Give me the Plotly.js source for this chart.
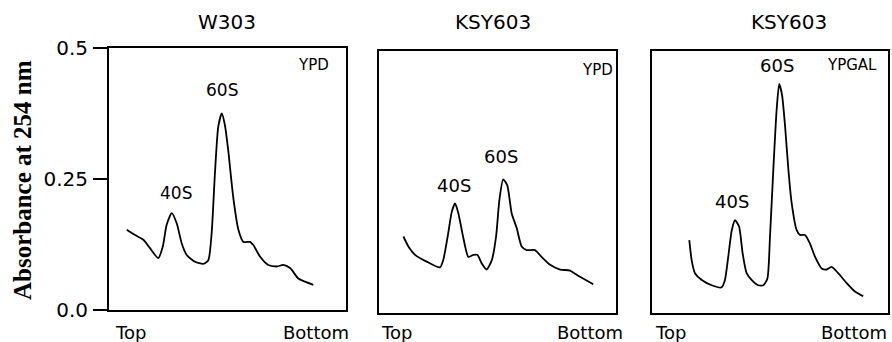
<!DOCTYPE html>
<html>
<head>
<meta charset="utf-8">
<script src="https://cdn.plot.ly/plotly-3.0.1.min.js"></script>
<style>html,body{margin:0;padding:0;background:#fff;}#chart{width:892px;height:342px;}</style>
</head>
<body>
<div id="chart"></div>
<script>
// Position along gradient (% from Top to Bottom) and absorbance at 254 nm
const w303YpdPos = [7.5, 11.0, 14.5, 17.3, 20.8, 22.7, 24.3, 26.5, 28.6, 30.7, 32.8, 36.3, 39.8, 41.9, 43.3, 44.7, 46.1, 47.6, 48.9, 50.3, 52.4, 54.6, 56.7, 59.5, 60.9, 63.7, 67.2, 70.8, 73.5, 76.4, 79.9, 82.7, 86.2];
const w303YpdAbs = [0.153, 0.143, 0.134, 0.118, 0.099, 0.121, 0.162, 0.185, 0.165, 0.127, 0.105, 0.092, 0.088, 0.095, 0.146, 0.261, 0.350, 0.375, 0.353, 0.305, 0.216, 0.153, 0.130, 0.130, 0.124, 0.102, 0.086, 0.083, 0.086, 0.080, 0.060, 0.054, 0.048];

const ksyYpdPos = [10.3, 12.4, 15.2, 20.1, 25.7, 27.1, 29.2, 30.7, 32.1, 33.5, 35.6, 37.7, 39.8, 41.5, 43.3, 45.4, 47.6, 49.4, 50.8, 52.4, 54.1, 56.0, 58.1, 60.2, 62.3, 65.8, 68.6, 72.2, 76.4, 80.6, 83.4, 87.6, 90.4];
const ksyYpdAbs = [0.146, 0.127, 0.111, 0.098, 0.087, 0.101, 0.152, 0.193, 0.209, 0.190, 0.143, 0.107, 0.111, 0.111, 0.095, 0.083, 0.101, 0.146, 0.216, 0.255, 0.244, 0.190, 0.162, 0.127, 0.120, 0.120, 0.107, 0.092, 0.083, 0.081, 0.073, 0.062, 0.055];

const ksyGalPos = [15.8, 16.8, 18.2, 21.1, 25.3, 29.5, 30.9, 32.3, 33.8, 35.2, 36.9, 38.4, 40.1, 42.2, 45.0, 47.2, 48.9, 50.0, 51.4, 52.8, 53.9, 55.1, 56.4, 57.8, 59.2, 61.3, 62.7, 64.8, 66.9, 69.1, 71.9, 74.0, 76.1, 78.9, 82.5, 86.0, 89.5];
const ksyGalAbs = [0.139, 0.101, 0.076, 0.063, 0.053, 0.049, 0.063, 0.107, 0.158, 0.177, 0.165, 0.114, 0.076, 0.063, 0.053, 0.053, 0.066, 0.146, 0.273, 0.387, 0.437, 0.416, 0.356, 0.273, 0.209, 0.158, 0.149, 0.149, 0.133, 0.107, 0.085, 0.083, 0.088, 0.076, 0.057, 0.041, 0.032];

const panelTitles = ["W303", "KSY603", "KSY603"];
const mediumLabels = ["YPD", "YPD", "YPGAL"];
const peakLabels = ["40S", "60S"];
const yTickVals = [0, 0.25, 0.5];
const yTickText = ["0.0", "0.25", "0.5"];
const endLabels = ["Top", "Bottom"];
const yTitle = "Absorbance at 254 nm";

const W = 892, H = 342;
const px = v => v / W;
const py = v => 1 - v / H;

const lineStyle = {color: "#000", width: 1.8, shape: "spline", smoothing: 0.6};
const traces = [
  {x: w303YpdPos, y: w303YpdAbs, xaxis: "x", yaxis: "y", mode: "lines", line: lineStyle, hoverinfo: "skip"},
  {x: ksyYpdPos, y: ksyYpdAbs, xaxis: "x2", yaxis: "y2", mode: "lines", line: lineStyle, hoverinfo: "skip"},
  {x: ksyGalPos, y: ksyGalAbs, xaxis: "x3", yaxis: "y3", mode: "lines", line: lineStyle, hoverinfo: "skip"}
];

const frameX = d => ({domain: d, range: [0, 100], showline: true, mirror: true, linecolor: "#000", linewidth: 2,
  showgrid: false, zeroline: false, showticklabels: false, ticks: "", fixedrange: true});
const frameY = (d, show) => ({domain: d, range: [0, 0.5], showline: true, mirror: true, linecolor: "#000", linewidth: 2,
  showgrid: false, zeroline: false, fixedrange: true,
  showticklabels: show, ticks: show ? "outside" : "", ticklen: 14, tickwidth: 1.5, tickcolor: "#000",
  tickmode: "array", tickvals: yTickVals, ticktext: yTickText,
  tickfont: {family: "DejaVu Sans", size: 20, color: "#000"}, ticklabelstandoff: 1});

const ann = [];
const font = (s, fam) => ({family: fam || "DejaVu Sans", size: s, color: "#000"});
// panel titles
[[227, panelTitles[0]], [493, panelTitles[1]], [789, panelTitles[2]]].forEach(([cx, t]) =>
  ann.push({xref: "paper", yref: "paper", x: px(cx), y: py(22), text: t, showarrow: false, xanchor: "center", yanchor: "middle", font: font(20)}));
// Top / Bottom
[[113, 351], [379, 625], [653, 889]].forEach(([l, r]) => {
  ann.push({xref: "paper", yref: "paper", x: px(l), y: py(332), text: endLabels[0], showarrow: false, xanchor: "left", yanchor: "middle", font: font(18)});
  ann.push({xref: "paper", yref: "paper", x: px(r), y: py(332), text: endLabels[1], showarrow: false, xanchor: "right", yanchor: "middle", font: font(18)});
});
// peak and medium labels (data coords)
const inPanel = [
  ["x", "y", 28.3, 0.223, peakLabels[0], 17], ["x", "y", 47.7, 0.42, peakLabels[1], 17], ["x", "y", 86.1, 0.468, mediumLabels[0], 15],
  ["x2", "y2", 31.6, 0.244, peakLabels[0], 18], ["x2", "y2", 51.5, 0.298, peakLabels[1], 18], ["x2", "y2", 92, 0.464, mediumLabels[1], 15],
  ["x3", "y3", 33.9, 0.212, peakLabels[0], 18], ["x3", "y3", 53, 0.473, peakLabels[1], 18], ["x3", "y3", 84.7, 0.473, mediumLabels[2], 15]
];
inPanel.forEach(([xr, yr, x, y, t, s]) =>
  ann.push({xref: xr, yref: yr, x: x, y: y, text: t, showarrow: false, xanchor: "center", yanchor: "middle", font: font(s)}));
// y title
ann.push({xref: "paper", yref: "paper", x: px(22), y: py(180), text: "<b>" + yTitle + "</b>", textangle: -90, showarrow: false,
  xanchor: "center", yanchor: "middle", font: font(25, "Liberation Serif")});

const layout = {
  width: W, height: H, margin: {l: 0, r: 0, t: 0, b: 0}, showlegend: false,
  paper_bgcolor: "#fff", plot_bgcolor: "#fff",
  xaxis: frameX([px(109), px(346)]),
  xaxis2: frameX([px(379), px(616)]),
  xaxis3: frameX([px(652), px(888)]),
  yaxis: frameY([py(310), py(48)], true),
  yaxis2: frameY([py(313), py(51)], false),
  yaxis3: frameY([py(313), py(51)], false),
  annotations: ann
};
layout.xaxis.anchor = "y"; layout.yaxis.anchor = "x";
layout.xaxis2.anchor = "y2"; layout.yaxis2.anchor = "x2";
layout.xaxis3.anchor = "y3"; layout.yaxis3.anchor = "x3";

Plotly.newPlot("chart", traces, layout, {staticPlot: true, displayModeBar: false});
</script>
</body>
</html>
